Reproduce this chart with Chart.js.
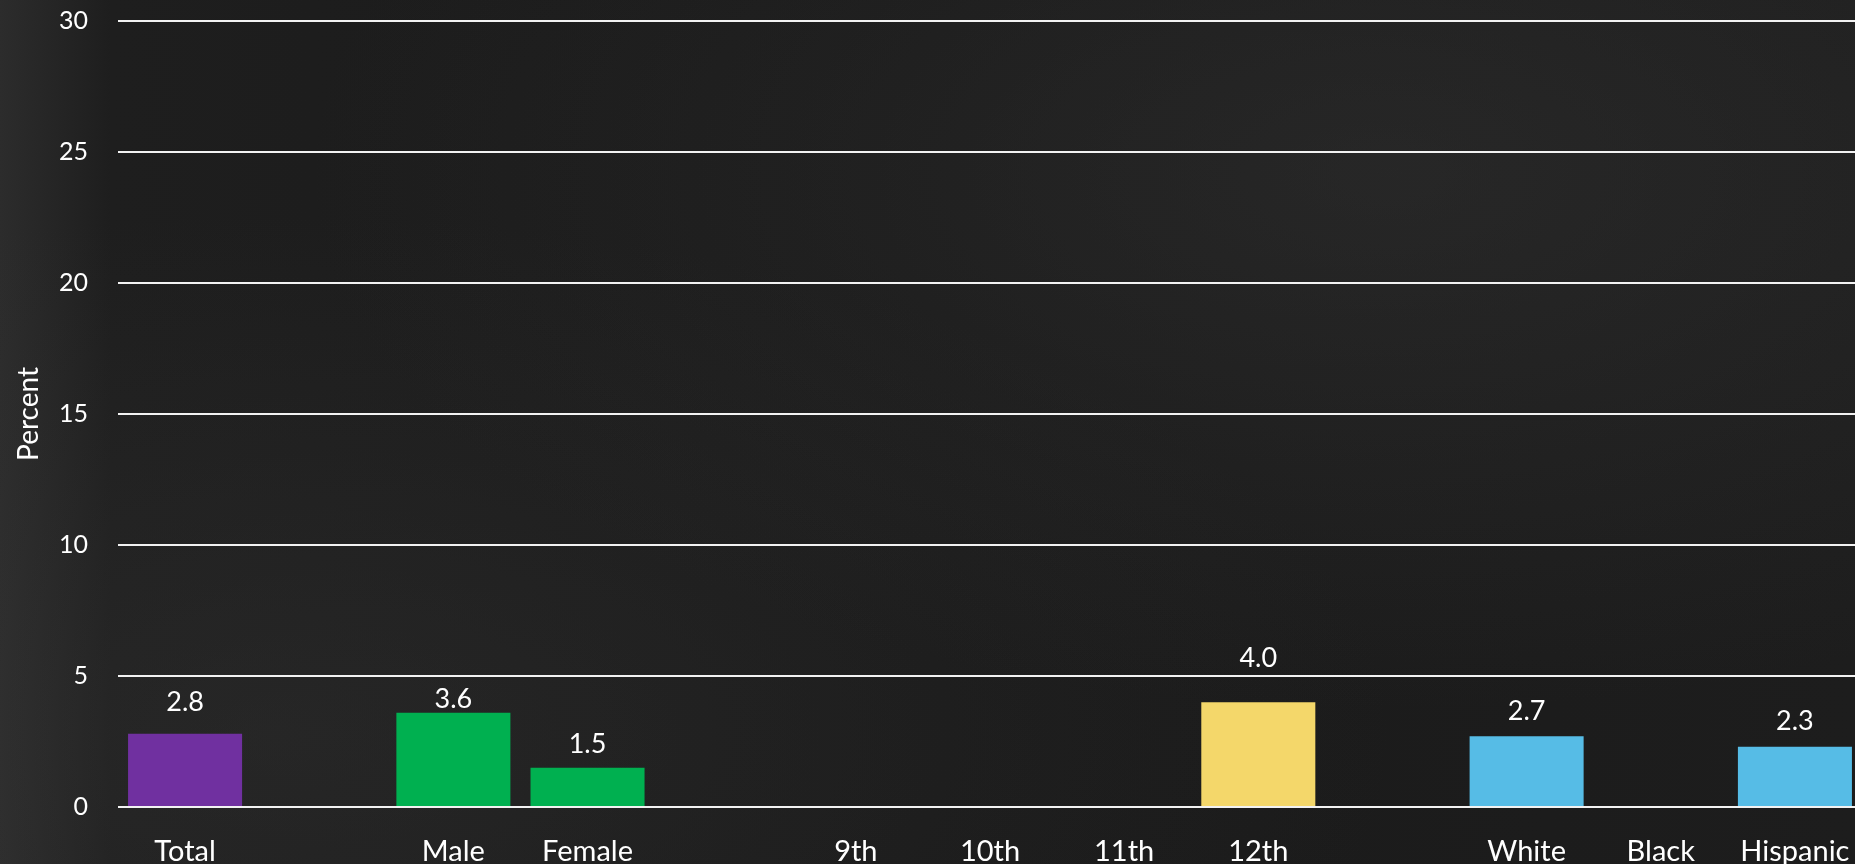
<!DOCTYPE html>
<html>
<head>
<meta charset="utf-8">
<script src="https://cdn.jsdelivr.net/npm/chart.js@4/dist/chart.umd.min.js"></script>
<style>
    html, body {
        margin: 0;
        padding: 0;
        width: 1855px;
        height: 864px;
        overflow: hidden;
        background: #1b1b1b;
    }
    .board {
        position: relative;
        width: 1855px;
        height: 864px;
        overflow: hidden;
        background:
            radial-gradient(ellipse at 75% 20%, rgba(60, 60, 60, 0.35), rgba(0, 0, 0, 0) 55%),
            radial-gradient(ellipse at 15% 85%, rgba(55, 55, 55, 0.35), rgba(0, 0, 0, 0) 50%),
            linear-gradient(90deg, #2c2c2c 0%, #1e1e1e 6%, #1a1a1a 50%, #1d1d1d 100%);
    }
    canvas {
        position: absolute;
        left: 0;
        top: 0;
    }
</style>
</head>
<body>
<div class="board">
    <canvas id="myChart" width="1862" height="864"></canvas>
</div>
<script>
// Categories (blank ones are the spacers between groups)
const categories = ['Total', '', 'Male', 'Female', '', '9th', '10th', '11th', '12th', '', 'White', 'Black', 'Hispanic'];

// Percent values, null where no bar is shown
const percentValues = [2.8, null, 3.6, 1.5, null, null, null, null, 4.0, null, 2.7, null, 2.3];

// y axis ticks
const yTicks = [0, 5, 10, 15, 20, 25, 30];

const barColors = ['#7030a0', null, '#00b050', '#00b050', null, '#f4d76a', '#f4d76a', '#f4d76a', '#f4d76a', null, '#56bce6', '#56bce6', '#56bce6'];

// how far each value label sits above its bar (px)
const labelLift = [31, 0, 13, 23, 0, 0, 0, 0, 44, 0, 25, 0, 25];

const valueLabels = {
    id: 'valueLabels',
    afterDatasetsDraw(chart) {
        const ctx = chart.ctx;
        const meta = chart.getDatasetMeta(0);
        const values = chart.data.datasets[0].data;
        ctx.save();
        ctx.fillStyle = '#ffffff';
        ctx.font = '27px Lato';
        ctx.textAlign = 'center';
        ctx.textBaseline = 'middle';
        meta.data.forEach((bar, i) => {
            if (values[i] === null) return;
            ctx.fillText(values[i].toFixed(1), bar.x, bar.y - labelLift[i]);
        });
        ctx.restore();
    }
};

const ctx = document.getElementById('myChart').getContext('2d');

new Chart(ctx, {
    type: 'bar',
    data: {
        labels: categories,
        datasets: [{
            label: 'Percent',
            data: percentValues,
            backgroundColor: barColors,
            borderWidth: 0,
            categoryPercentage: 1,
            barPercentage: 0.85
        }]
    },
    options: {
        responsive: false,
        animation: false,
        layout: {
            padding: { top: 21, right: 0, bottom: 0, left: 0 }
        },
        plugins: {
            legend: { display: false },
            tooltip: { enabled: false }
        },
        scales: {
            x: {
                grid: { display: false },
                border: { display: false },
                ticks: {
                    color: '#ffffff',
                    padding: 19,
                    maxRotation: 0,
                    autoSkip: false,
                    font: { family: 'Lato', size: 29 }
                },
                afterFit: (axis) => {
                    axis.height = 57;
                    axis.paddingLeft = 0;
                    axis.paddingRight = 0;
                }
            },
            y: {
                min: 0,
                max: 30,
                afterBuildTicks: (axis) => {
                    axis.ticks = yTicks.map(v => ({ value: v }));
                },
                grid: {
                    color: '#f2f2f2',
                    lineWidth: 2,
                    drawTicks: false
                },
                border: { display: false },
                ticks: {
                    color: '#ffffff',
                    padding: 30,
                    font: { family: 'Lato', size: 25 }
                },
                title: {
                    display: true,
                    text: 'Percent',
                    color: '#ffffff',
                    padding: { top: 12, bottom: 0 },
                    font: { family: 'Lato', size: 28 }
                },
                afterFit: (axis) => {
                    axis.width = 118;
                    axis.paddingTop = 0;
                    axis.paddingBottom = 0;
                }
            }
        }
    },
    plugins: [valueLabels]
});
</script>
</body>
</html>
